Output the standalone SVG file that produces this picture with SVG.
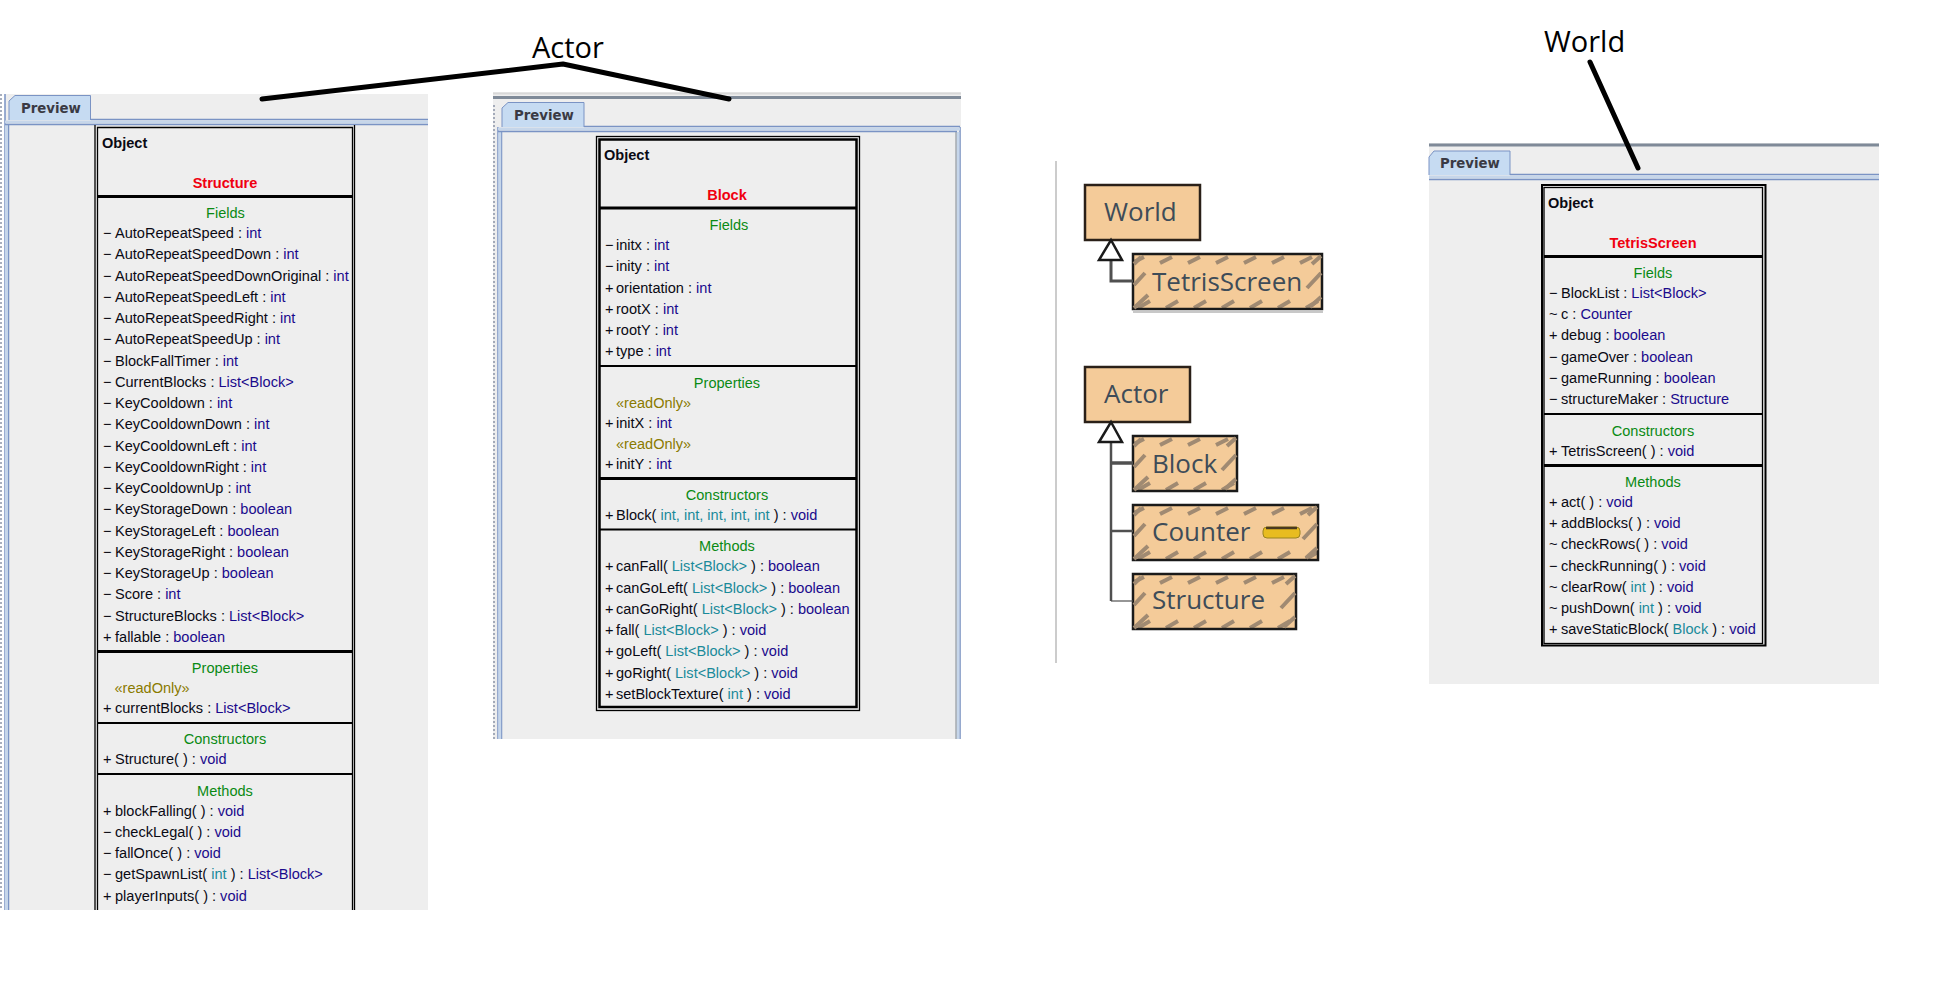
<svg xmlns="http://www.w3.org/2000/svg" width="1952" height="1000" viewBox="0 0 1952 1000">
<style>
text{font-family:"Liberation Sans",Arial,sans-serif;font-size:14.55px;fill:#0a0a14}
.o{font-weight:bold}
.r{font-weight:bold;fill:#f00010;text-anchor:middle}
.h{fill:#0a8a14;text-anchor:middle}
.t{fill:#1a0a8c}
.p{fill:#1a8a9a}
.s{fill:#8a7a00}
.tab{font-weight:bold;fill:#3a3a44;font-family:"DejaVu Sans",sans-serif;font-size:13.3px}
.big{font-family:"Open Sans","Noto Sans",sans-serif;font-size:29px;fill:#000}
.cls{font-family:"Open Sans","Noto Sans",sans-serif;font-size:26px;fill:#3e4c58}
.panel{fill:#eeeeee}
.sep{stroke:#000;stroke-width:3;fill:none}
.sep2{stroke:#000;stroke-width:2;fill:none}
.outer{fill:none;stroke:#000;stroke-width:1.3}
.inner{fill:none;stroke:#000;stroke-width:1.3}
.outerb{fill:none;stroke:#000;stroke-width:2}
.innerb{fill:none;stroke:#000;stroke-width:2.5}
.tabbg{fill:#c6dbf2;stroke:#7a93c4;stroke-width:1}
.bl{stroke:#7a93c4;stroke-width:1.5;fill:none}
.bl2{stroke:#c6d6ea;stroke-width:3;fill:none}
.dot{stroke:#8a94a8;stroke-width:1.5;stroke-dasharray:2 2;fill:none}
.gl{stroke:#808890;stroke-width:1;fill:none}
.ann{stroke:#000;stroke-width:5;stroke-linecap:round;stroke-linejoin:round;fill:none}
.conn{stroke:#505050;fill:none}
.tri{fill:#fff;stroke:#1a1a1a;stroke-width:2.5}
.box{fill:#f4cb99;stroke:#2a2018;stroke-width:2.5}
.shadow{fill:#c8c8c8}
.hb{fill:url(#hatch);stroke:#1a1a1a;stroke-width:2.5}
.stripe{stroke:#a08a72;stroke-width:4;fill:none}
</style>
<defs>
<pattern id="hatch" width="28" height="55" patternUnits="userSpaceOnUse">
<rect width="28" height="55" fill="#f4cb99"/>
<path class="stripe" d="M-1 9 L11 3 M27 9 L39 3 M5 54 L17 47"/>
</pattern>
<g id="edgeL"><path class="stripe" d="M1 10 L8 3 M1 31 L12 19 M1 54 L15 41"/><rect x="0" y="14" width="0" height="0"/></g>
<g id="edgeR"><path class="stripe" d="M-10 10 L-1 2 M-15 34 L-1 19 M-12 53 L-1 43"/></g>
</defs>

<g id="annotation-actor"><text class="big" x="532" y="58">Actor</text></g>
<g id="annotation-world"><text class="big" x="1544" y="52">World</text></g>

<g id="panel-structure">
<rect class="panel" x="5" y="94" width="423" height="816"/>
<path class="dot" d="M1 94 V910"/>
<path class="bl" d="M5 94 V910 M8.500 124 V910"/>
<path class="bl2" d="M6.500 124 V910"/>
<path class="tabbg" d="M9 120 V101 L15 95.500 H90.500 V120"/>
<path class="bl" d="M91 119.500 H428"/>
<path class="bl2" d="M5 122 H428"/>
<path class="bl" d="M5 124.500 H428"/>
<text class="tab" x="21" y="113">Preview</text>
<path class="outer" d="M95 910 V125 M354.500 125 V910"/>
<path class="inner" d="M97.500 910 V127.500 H352.500 V910"/>
<text class="o" x="102" y="148">Object</text>
<text class="r" x="225" y="188">Structure</text>
<path class="sep" d="M98 196.500 H352"/>
<text class="h" x="225.500" y="218">Fields</text>
<text x="103" y="238">− <tspan x="115">AutoRepeatSpeed : </tspan><tspan class="t">int</tspan></text>
<text x="103" y="259">− <tspan x="115">AutoRepeatSpeedDown : </tspan><tspan class="t">int</tspan></text>
<text x="103" y="281">− <tspan x="115">AutoRepeatSpeedDownOriginal : </tspan><tspan class="t">int</tspan></text>
<text x="103" y="302">− <tspan x="115">AutoRepeatSpeedLeft : </tspan><tspan class="t">int</tspan></text>
<text x="103" y="323">− <tspan x="115">AutoRepeatSpeedRight : </tspan><tspan class="t">int</tspan></text>
<text x="103" y="344">− <tspan x="115">AutoRepeatSpeedUp : </tspan><tspan class="t">int</tspan></text>
<text x="103" y="366">− <tspan x="115">BlockFallTimer : </tspan><tspan class="t">int</tspan></text>
<text x="103" y="387">− <tspan x="115">CurrentBlocks : </tspan><tspan class="t">List&lt;Block&gt;</tspan></text>
<text x="103" y="408">− <tspan x="115">KeyCooldown : </tspan><tspan class="t">int</tspan></text>
<text x="103" y="429">− <tspan x="115">KeyCooldownDown : </tspan><tspan class="t">int</tspan></text>
<text x="103" y="451">− <tspan x="115">KeyCooldownLeft : </tspan><tspan class="t">int</tspan></text>
<text x="103" y="472">− <tspan x="115">KeyCooldownRight : </tspan><tspan class="t">int</tspan></text>
<text x="103" y="493">− <tspan x="115">KeyCooldownUp : </tspan><tspan class="t">int</tspan></text>
<text x="103" y="514">− <tspan x="115">KeyStorageDown : </tspan><tspan class="t">boolean</tspan></text>
<text x="103" y="536">− <tspan x="115">KeyStorageLeft : </tspan><tspan class="t">boolean</tspan></text>
<text x="103" y="557">− <tspan x="115">KeyStorageRight : </tspan><tspan class="t">boolean</tspan></text>
<text x="103" y="578">− <tspan x="115">KeyStorageUp : </tspan><tspan class="t">boolean</tspan></text>
<text x="103" y="599">− <tspan x="115">Score : </tspan><tspan class="t">int</tspan></text>
<text x="103" y="621">− <tspan x="115">StructureBlocks : </tspan><tspan class="t">List&lt;Block&gt;</tspan></text>
<text x="103" y="642">+ <tspan x="115">fallable : </tspan><tspan class="t">boolean</tspan></text>
<path class="sep" d="M98 651.500 H352"/>
<text class="h" x="225" y="673">Properties</text>
<text class="s" x="114.500" y="693">«readOnly»</text>
<text x="103" y="713">+ <tspan x="115">currentBlocks : </tspan><tspan class="t">List&lt;Block&gt;</tspan></text>
<path class="sep2" d="M98 723 H352"/>
<text class="h" x="225" y="744">Constructors</text>
<text x="103" y="764">+ <tspan x="115">Structure( ) : </tspan><tspan class="t">void</tspan></text>
<path class="sep2" d="M98 774 H352"/>
<text class="h" x="225" y="796">Methods</text>
<text x="103" y="816">+ <tspan x="115">blockFalling( ) : </tspan><tspan class="t">void</tspan></text>
<text x="103" y="837">− <tspan x="115">checkLegal( ) : </tspan><tspan class="t">void</tspan></text>
<text x="103" y="858">− <tspan x="115">fallOnce( ) : </tspan><tspan class="t">void</tspan></text>
<text x="103" y="879">− <tspan x="115">getSpawnList( </tspan><tspan class="p">int</tspan> ) : <tspan class="t">List&lt;Block&gt;</tspan></text>
<text x="103" y="901">+ <tspan x="115">playerInputs( ) : </tspan><tspan class="t">void</tspan></text>
</g>

<g id="panel-block">
<rect class="panel" x="493" y="92" width="468" height="647"/>
<path d="M493 93.500 H961" stroke="#d8d8d8" stroke-width="2"/>
<path d="M493 97.500 H961" stroke="#7f8a98" stroke-width="3"/>
<path class="dot" d="M494 105 V739"/>
<path class="bl" d="M498 127 V739 M501.500 132 V739 M960 127 V739"/>
<path class="bl2" d="M499.700 132 V739 M958 132 V739"/>
<path class="gl" d="M956 132 V739"/>
<path class="tabbg" d="M502 127 V108 L508 102.500 H584 V127"/>
<path class="bl" d="M584 126.500 H960"/>
<path class="bl2" d="M498 129 H960"/>
<path class="bl" d="M498 131.500 H957"/>
<text class="tab" x="514" y="120">Preview</text>
<rect class="outer" x="596.500" y="136.500" width="263" height="574"/>
<rect class="innerb" x="599.500" y="139.500" width="257" height="567.500"/>
<text class="o" x="604" y="160">Object</text>
<text class="r" x="727" y="200">Block</text>
<path class="sep" d="M600 208 H856"/>
<text class="h" x="729" y="230">Fields</text>
<text x="605" y="250">− <tspan x="616">initx : </tspan><tspan class="t">int</tspan></text>
<text x="605" y="271">− <tspan x="616">inity : </tspan><tspan class="t">int</tspan></text>
<text x="605" y="293">+ <tspan x="616">orientation : </tspan><tspan class="t">int</tspan></text>
<text x="605" y="314">+ <tspan x="616">rootX : </tspan><tspan class="t">int</tspan></text>
<text x="605" y="335">+ <tspan x="616">rootY : </tspan><tspan class="t">int</tspan></text>
<text x="605" y="356">+ <tspan x="616">type : </tspan><tspan class="t">int</tspan></text>
<path class="sep2" d="M600 366 H856"/>
<text class="h" x="727" y="388">Properties</text>
<text class="s" x="616" y="408">«readOnly»</text>
<text x="605" y="428">+ <tspan x="616">initX : </tspan><tspan class="t">int</tspan></text>
<text class="s" x="616" y="449">«readOnly»</text>
<text x="605" y="469">+ <tspan x="616">initY : </tspan><tspan class="t">int</tspan></text>
<path class="sep" d="M600 478.500 H856"/>
<text class="h" x="727" y="500">Constructors</text>
<text x="605" y="520">+ <tspan x="616">Block( </tspan><tspan class="p">int, int, int, int, int</tspan> ) : <tspan class="t">void</tspan></text>
<path class="sep2" d="M600 529.500 H856"/>
<text class="h" x="727" y="551">Methods</text>
<text x="605" y="571">+ <tspan x="616">canFall( </tspan><tspan class="p">List&lt;Block&gt;</tspan> ) : <tspan class="t">boolean</tspan></text>
<text x="605" y="593">+ <tspan x="616">canGoLeft( </tspan><tspan class="p">List&lt;Block&gt;</tspan> ) : <tspan class="t">boolean</tspan></text>
<text x="605" y="614">+ <tspan x="616">canGoRight( </tspan><tspan class="p">List&lt;Block&gt;</tspan> ) : <tspan class="t">boolean</tspan></text>
<text x="605" y="635">+ <tspan x="616">fall( </tspan><tspan class="p">List&lt;Block&gt;</tspan> ) : <tspan class="t">void</tspan></text>
<text x="605" y="656">+ <tspan x="616">goLeft( </tspan><tspan class="p">List&lt;Block&gt;</tspan> ) : <tspan class="t">void</tspan></text>
<text x="605" y="678">+ <tspan x="616">goRight( </tspan><tspan class="p">List&lt;Block&gt;</tspan> ) : <tspan class="t">void</tspan></text>
<text x="605" y="699">+ <tspan x="616">setBlockTexture( </tspan><tspan class="p">int</tspan> ) : <tspan class="t">void</tspan></text>
</g>

<path d="M1056 161 V663" stroke="#cccccc" stroke-width="2" fill="none"/>

<g id="node-world"><rect class="box" x="1085" y="185" width="115" height="55"/><text class="cls" x="1104" y="221">World</text></g>
<g id="node-tetrisscreen" transform="translate(1133 254)"><rect class="hb" width="189" height="55"/><use href="#edgeL"/><use href="#edgeR" x="189"/><path class="shadow" d="M0 57 H190 V59 H0 Z"/><text class="cls" x="19" y="37">TetrisScreen</text></g>
<g id="node-actor"><rect class="box" x="1085" y="367" width="105" height="55"/><text class="cls" x="1104" y="403">Actor</text></g>
<g id="node-block" transform="translate(1133 436)"><rect class="hb" width="104" height="55"/><use href="#edgeL"/><use href="#edgeR" x="104"/><text class="cls" x="19" y="37">Block</text></g>
<g id="node-counter" transform="translate(1133 505)"><rect class="hb" width="185" height="55"/><use href="#edgeL"/><use href="#edgeR" x="185"/><text class="cls" x="19" y="36">Counter</text><rect x="130" y="22" width="37" height="11" rx="4" fill="#e8bc20" stroke="#9a8420" stroke-width="1"/><path d="M133 23 H164" stroke="#4a3a20" stroke-width="2.500"/></g>
<g id="node-structure" transform="translate(1133 574)"><rect class="hb" width="163" height="55"/><use href="#edgeL"/><use href="#edgeR" x="163"/><text class="cls" x="19" y="35">Structure</text></g>

<g id="panel-tetrisscreen">
<rect class="panel" x="1429" y="143" width="450" height="541"/>
<path d="M1429 145 H1879" stroke="#7f8a98" stroke-width="3"/>
<path class="tabbg" d="M1429 175 V157 L1434 151 H1510 V175"/>
<path class="bl" d="M1510 174.500 H1879"/>
<path class="bl2" d="M1429 177 H1879"/>
<path class="bl" d="M1429 179.500 H1879"/>
<text class="tab" x="1440" y="168">Preview</text>
<rect class="outerb" x="1542" y="185" width="223.500" height="460.500"/>
<rect class="inner" x="1544" y="187.500" width="218.500" height="456"/>
<text class="o" x="1548" y="208">Object</text>
<text class="r" x="1653" y="248">TetrisScreen</text>
<path class="sep" d="M1544 256.500 H1762"/>
<text class="h" x="1653" y="278">Fields</text>
<text x="1549" y="298">− <tspan x="1561">BlockList : </tspan><tspan class="t">List&lt;Block&gt;</tspan></text>
<text x="1549" y="319">~ <tspan x="1561">c : </tspan><tspan class="t">Counter</tspan></text>
<text x="1549" y="340">+ <tspan x="1561">debug : </tspan><tspan class="t">boolean</tspan></text>
<text x="1549" y="362">− <tspan x="1561">gameOver : </tspan><tspan class="t">boolean</tspan></text>
<text x="1549" y="383">− <tspan x="1561">gameRunning : </tspan><tspan class="t">boolean</tspan></text>
<text x="1549" y="404">− <tspan x="1561">structureMaker : </tspan><tspan class="t">Structure</tspan></text>
<path class="sep2" d="M1544 414 H1762"/>
<text class="h" x="1653" y="436">Constructors</text>
<text x="1549" y="456">+ <tspan x="1561">TetrisScreen( ) : </tspan><tspan class="t">void</tspan></text>
<path class="sep" d="M1544 465.500 H1762"/>
<text class="h" x="1653" y="487">Methods</text>
<text x="1549" y="507">+ <tspan x="1561">act( ) : </tspan><tspan class="t">void</tspan></text>
<text x="1549" y="528">+ <tspan x="1561">addBlocks( ) : </tspan><tspan class="t">void</tspan></text>
<text x="1549" y="549">~ <tspan x="1561">checkRows( ) : </tspan><tspan class="t">void</tspan></text>
<text x="1549" y="571">− <tspan x="1561">checkRunning( ) : </tspan><tspan class="t">void</tspan></text>
<text x="1549" y="592">~ <tspan x="1561">clearRow( </tspan><tspan class="p">int</tspan> ) : <tspan class="t">void</tspan></text>
<text x="1549" y="613">~ <tspan x="1561">pushDown( </tspan><tspan class="p">int</tspan> ) : <tspan class="t">void</tspan></text>
<text x="1549" y="634">+ <tspan x="1561">saveStaticBlock( </tspan><tspan class="p">Block</tspan> ) : <tspan class="t">void</tspan></text>
</g>

<g id="connectors">
<path class="ann" d="M262 99 L563 64 L729 99"/>
<path class="ann" d="M1590 62 L1638 168"/>
<path class="conn" stroke-width="3" d="M1111 258 V281 H1133"/>
<path class="conn" stroke-width="2.500" d="M1111 440 V601"/>
<path class="conn" stroke-width="3.500" d="M1111 463 H1133"/>
<path class="conn" stroke-width="2.500" d="M1111 531 H1133"/>
<path class="conn" stroke-width="1.200" d="M1111 601 H1133"/>
<path class="tri" d="M1111 240 L1122 260 H1099 Z"/>
<path class="tri" d="M1111 422 L1122 442 H1099 Z"/>
</g>
</svg>
